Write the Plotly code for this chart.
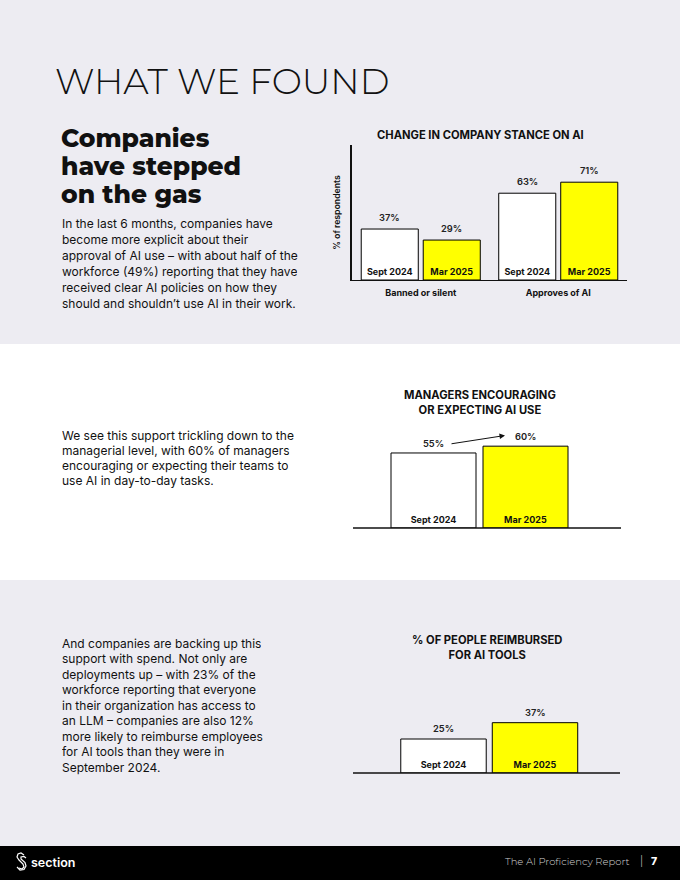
import plotly.graph_objects as go

W, H = 680, 880


def px(x):
    return x / W


def py(y):
    return 1 - y / H


# ---------------- data ----------------
stance_groups = ["Banned or silent", "Approves of AI"]
stance_sept = [37, 63]
stance_mar = [29, 71]
periods = ["Sept 2024", "Mar 2025"]
managers_values = [55, 60]
reimbursed_values = [25, 37]

GRAY = "#EDECF2"
YELLOW = "#FFFF00"
FONT = "Inter"
HEAD = "Montserrat, Inter"
INK = "#111111"

fig = go.Figure()

bar_line = dict(color="black", width=1)
inside_font = dict(family=FONT, size=9, color=INK, weight=700)

# chart 1 - grouped
fig.add_trace(go.Bar(
    x=stance_groups, y=stance_sept, name=periods[0],
    text=[periods[0]] * len(stance_groups), textposition="inside",
    insidetextanchor="start", textangle=0, constraintext="none",
    textfont=inside_font, insidetextfont=inside_font,
    marker=dict(color="white", line=bar_line), xaxis="x", yaxis="y",
    hoverinfo="skip",
))
fig.add_trace(go.Bar(
    x=stance_groups, y=stance_mar, name=periods[1],
    text=[periods[1]] * len(stance_groups), textposition="inside",
    insidetextanchor="start", textangle=0, constraintext="none",
    textfont=inside_font, insidetextfont=inside_font,
    marker=dict(color=YELLOW, line=bar_line), xaxis="x", yaxis="y",
    hoverinfo="skip",
))

# chart 2
fig.add_trace(go.Bar(
    x=periods, y=managers_values, width=0.924,
    text=periods, textposition="inside", insidetextanchor="start",
    textangle=0, constraintext="none",
    textfont=inside_font, insidetextfont=inside_font,
    marker=dict(color=["white", YELLOW], line=bar_line),
    xaxis="x2", yaxis="y2", hoverinfo="skip",
))

# chart 3
fig.add_trace(go.Bar(
    x=periods, y=reimbursed_values, width=0.934,
    text=periods, textposition="inside", insidetextanchor="start",
    textangle=0, constraintext="none",
    textfont=inside_font, insidetextfont=inside_font,
    marker=dict(color=["white", YELLOW], line=bar_line),
    xaxis="x3", yaxis="y3", hoverinfo="skip",
))

shapes = []
# background bands
shapes.append(dict(type="rect", xref="paper", yref="paper", x0=0, x1=1,
                   y0=py(344), y1=1, fillcolor=GRAY, line=dict(width=0), layer="below"))
shapes.append(dict(type="rect", xref="paper", yref="paper", x0=0, x1=1,
                   y0=py(846), y1=py(580), fillcolor=GRAY, line=dict(width=0), layer="below"))
shapes.append(dict(type="rect", xref="paper", yref="paper", x0=0, x1=1,
                   y0=0, y1=py(846), fillcolor="black", line=dict(width=0), layer="below"))
# baselines for charts 2 & 3
shapes.append(dict(type="line", xref="paper", yref="paper", x0=px(353), x1=px(621),
                   y0=py(528), y1=py(528), line=dict(color=INK, width=1.3)))
shapes.append(dict(type="line", xref="paper", yref="paper", x0=px(353), x1=px(620),
                   y0=py(773), y1=py(773), line=dict(color=INK, width=1.3)))


# logo glyph (paperclip S)
def path_from(points):
    s = "M {:.5f},{:.5f}".format(px(points[0][0]), py(points[0][1]))
    for p in points[1:]:
        s += " L {:.5f},{:.5f}".format(px(p[0]), py(p[1]))
    return s


logo1 = [(24, 855), (21, 853), (18, 854), (17, 857), (19, 860), (23, 864), (24, 867), (22, 869), (19, 868)]
logo2 = [(26, 858), (24, 856.5), (21, 857), (21, 859), (25, 862.5), (26, 866), (24, 869.5), (20, 870), (17, 867)]
for pts in (logo1, logo2):
    shapes.append(dict(type="path", xref="paper", yref="paper", path=path_from(pts),
                       line=dict(color="white", width=1.2)))

ann = []


def text(x, y, s, size, weight=400, color=INK, family=FONT, xanchor="left",
         yanchor="middle", height=None):
    a = dict(x=px(x), y=py(y), xref="paper", yref="paper", text=s, showarrow=False,
             xanchor=xanchor, yanchor=yanchor,
             font=dict(family=family, size=size, color=color, weight=weight))
    if height is not None:
        a["height"] = height
    ann.append(a)


# page title
text(53, 81, "WHAT WE FOUND", 36, weight=300, family="Montserrat, Lato")

# headline
for i, line in enumerate(["Companies", "have stepped", "on the gas"]):
    text(59, 138 + 28 * i, line, 25, weight=800, family=HEAD, height=28)

para1 = ["In the last 6 months, companies have",
         "become more explicit about their",
         "approval of AI use \u2013 with about half of the",
         "workforce (49%) reporting that they have",
         "received clear AI policies on how they",
         "should and shouldn\u2019t use AI in their work."]
for i, line in enumerate(para1):
    text(60, 223 + 16 * i, line, 12, height=16)

para2 = ["We see this support trickling down to the",
         "managerial level, with 60% of managers",
         "encouraging or expecting their teams to",
         "use AI in day-to-day tasks."]
for i, line in enumerate(para2):
    text(60, 435 + 15.2 * i, line, 12, height=15)

para3 = ["And companies are backing up this",
         "support with spend. Not only are",
         "deployments up \u2013 with 23% of the",
         "workforce reporting that everyone",
         "in their organization has access to",
         "an LLM \u2013 companies are also 12%",
         "more likely to reimburse employees",
         "for AI tools than they were in",
         "September 2024."]
for i, line in enumerate(para3):
    text(60, 643 + 15.5 * i, line, 12, height=15)

# chart titles
TS = 11.2
text(480, 135, "CHANGE IN COMPANY STANCE ON AI", TS, weight=700, xanchor="center")
text(480, 402, "MANAGERS ENCOURAGING<br>OR EXPECTING AI USE", TS, weight=700, xanchor="center")
text(487, 647, "% OF PEOPLE REIMBURSED<br>FOR AI TOOLS", TS, weight=700, xanchor="center")

# value labels (data-anchored)
lab_font = dict(family=FONT, size=9.3, color="#222222", weight=600)
for g, v in zip(stance_groups, stance_sept):
    ann.append(dict(x=g, y=v, xref="x", yref="y", text=f"{v}%", showarrow=False,
                    xshift=-31, yshift=4, yanchor="bottom", font=lab_font))
for g, v in zip(stance_groups, stance_mar):
    ann.append(dict(x=g, y=v, xref="x", yref="y", text=f"{v}%", showarrow=False,
                    xshift=31, yshift=4, yanchor="bottom", font=lab_font))
for p, v in zip(periods, managers_values):
    ann.append(dict(x=p, y=v, xref="x2", yref="y2", text=f"{v}%", showarrow=False,
                    yshift=2, yanchor="bottom", font=lab_font))
for p, v in zip(periods, reimbursed_values):
    ann.append(dict(x=p, y=v, xref="x3", yref="y3", text=f"{v}%", showarrow=False,
                    yshift=3, yanchor="bottom", font=lab_font))

# arrow between manager labels
ann.append(dict(x=px(505), y=py(435.5), xref="paper", yref="paper",
                ax=-55, ay=8.5, axref="pixel", ayref="pixel",
                text="", showarrow=True, arrowhead=2, arrowsize=1.1, arrowwidth=1,
                arrowcolor=INK))

# footer
text(29, 862, "section", 12.5, weight=600, color="white", family=FONT)
text(632, 861, "The AI Proficiency Report", 10, weight=300, color="#CFCFCF",
     family="Montserrat, Lato", xanchor="right")
text(641, 861, "|", 10, weight=300, color="#CFCFCF", family=FONT, xanchor="center")
text(654, 861, "7", 10.5, weight=800, color="white", family=FONT, xanchor="center")

fig.update_layout(
    width=W, height=H,
    margin=dict(l=0, r=0, t=0, b=0),
    paper_bgcolor="white", plot_bgcolor="rgba(0,0,0,0)",
    showlegend=False,
    barmode="group", bargap=0.098, bargroupgap=0.08,
    shapes=shapes, annotations=ann,
    xaxis=dict(domain=[px(352), px(627)], anchor="y", showline=True, linecolor=INK,
               linewidth=1.3, ticks="", showgrid=False, zeroline=False, fixedrange=True,
               ticklabelstandoff=4,
               tickfont=dict(family=FONT, size=9, color=INK, weight=700)),
    yaxis=dict(domain=[py(280), py(145)], anchor="x", range=[0, 98], showline=True,
               linecolor=INK, linewidth=2, showticklabels=False, ticks="", showgrid=False,
               zeroline=False, fixedrange=True,
               title=dict(text="% of respondents", standoff=8,
                          font=dict(family=FONT, size=8.7, color=INK, weight=600))),
    xaxis2=dict(domain=[px(387.5), px(571.5)], anchor="y2", range=[-0.5, 1.5],
                visible=False, fixedrange=True),
    yaxis2=dict(domain=[py(528), py(391.6)], anchor="x2", range=[0, 100],
                visible=False, fixedrange=True),
    xaxis3=dict(domain=[px(397.75), px(580.75)], anchor="y3", range=[-0.5, 1.5],
                visible=False, fixedrange=True),
    yaxis3=dict(domain=[py(773), py(637)], anchor="x3", range=[0, 100],
                visible=False, fixedrange=True),
)

fig.write_html("out.html", config={"displayModeBar": False},
               post_script="document.body.style.margin='0';document.body.style.overflow='hidden';")
